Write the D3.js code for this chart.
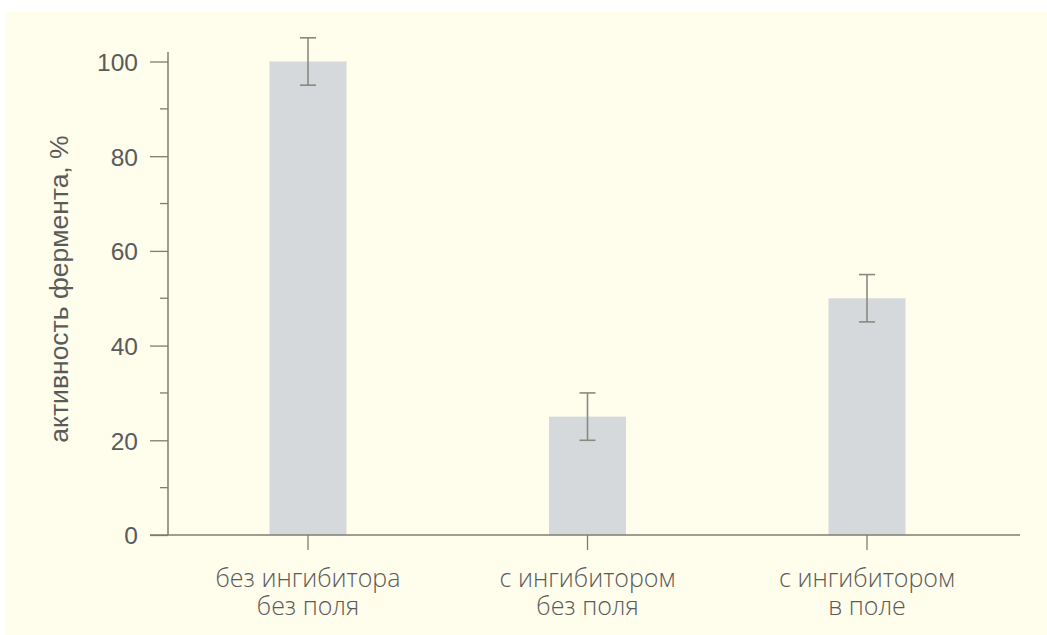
<!DOCTYPE html>
<html>
<head>
<meta charset="utf-8">
<script src="https://cdn.jsdelivr.net/npm/d3@7"></script>
<style>
  body { margin: 0; background: #fff; }
  svg { display: block; }
</style>
</head>
<body>
<svg width="1047" height="635"></svg>
<script>
// data
let categories = [["без ингибитора", "без поля"], ["с ингибитором", "без поля"], ["с ингибитором", "в поле"]];
let values = [100, 25, 50];
let errors = [5, 5, 5];
let yTicks = [0, 20, 40, 60, 80, 100];
let yMinor = [10, 30, 50, 70, 90];

let svg = d3.select("svg");
let axisColor = "#7d7d72";

svg.append("rect")
  .attr("x", 6).attr("y", 12)
  .attr("width", 1041).attr("height", 623)
  .attr("fill", "#fffdec");

let x = d3.scalePoint()
  .domain(d3.range(categories.length))
  .range([308, 867]);

let y = d3.scaleLinear()
  .domain([0, 100])
  .range([535, 61.5]);

let barW = 77;

// bars
svg.append("g").selectAll("rect")
  .data(values)
  .join("rect")
  .attr("x", (d, i) => x(i) - barW / 2)
  .attr("y", d => y(d))
  .attr("width", barW)
  .attr("height", d => y(0) - y(d))
  .attr("fill", "#d6d9dc");

// error bars
let eb = svg.append("g").attr("stroke", "#8a8a82").attr("stroke-width", 1.6);
values.forEach(function(v, i) {
  let cx = x(i);
  eb.append("line").attr("x1", cx).attr("x2", cx).attr("y1", y(v + errors[i])).attr("y2", y(v - errors[i]));
  eb.append("line").attr("x1", cx - 8).attr("x2", cx + 8).attr("y1", y(v + errors[i])).attr("y2", y(v + errors[i]));
  eb.append("line").attr("x1", cx - 8).attr("x2", cx + 8).attr("y1", y(v - errors[i])).attr("y2", y(v - errors[i]));
});

// y axis
let yAxis = svg.append("g")
  .attr("transform", "translate(168,0)")
  .call(d3.axisLeft(y).tickValues(yTicks).tickSize(18).tickPadding(12));
yAxis.select(".domain").remove();
yAxis.selectAll(".tick line").attr("stroke", axisColor).attr("stroke-width", 1.3);
yAxis.selectAll(".tick text")
  .attr("fill", "#5a5a5a")
  .attr("font-family", "Liberation Sans, Arial, sans-serif")
  .attr("font-size", 24.5)
  .attr("dy", "0.36em");

svg.append("g").selectAll("line")
  .data(yMinor)
  .join("line")
  .attr("x1", 160).attr("x2", 168)
  .attr("y1", d => y(d)).attr("y2", d => y(d))
  .attr("stroke", axisColor).attr("stroke-width", 1.3);

svg.append("line")
  .attr("x1", 168).attr("x2", 168)
  .attr("y1", y(102)).attr("y2", y(0))
  .attr("stroke", axisColor).attr("stroke-width", 1.5);

// x axis
svg.append("line")
  .attr("x1", 150).attr("x2", 1020)
  .attr("y1", y(0)).attr("y2", y(0))
  .attr("stroke", axisColor).attr("stroke-width", 1.5);

svg.append("g").selectAll("line")
  .data(categories)
  .join("line")
  .attr("x1", (d, i) => x(i)).attr("x2", (d, i) => x(i))
  .attr("y1", y(0)).attr("y2", y(0) + 15)
  .attr("stroke", axisColor).attr("stroke-width", 1.3);

let labels = svg.append("g").selectAll("text")
  .data(categories)
  .join("text")
  .attr("x", (d, i) => x(i))
  .attr("y", 587)
  .attr("text-anchor", "middle")
  .attr("fill", "#5a5a5a")
  .attr("font-family", "Open Sans, sans-serif")
  .attr("font-weight", 300)
  .attr("font-size", 25);
labels.selectAll("tspan")
  .data(d => d)
  .join("tspan")
  .attr("x", function() { return this.parentNode.getAttribute("x"); })
  .attr("dy", (d, j) => j === 0 ? 0 : 28)
  .text(d => d);

// y title
svg.append("text")
  .attr("transform", "translate(68,289) rotate(-90)")
  .attr("text-anchor", "middle")
  .attr("fill", "#5a5a5a")
  .attr("font-family", "Liberation Sans, Arial, sans-serif")
  .attr("font-size", 26.5)
  .text("активность фермента, %");
</script>
</body>
</html>
